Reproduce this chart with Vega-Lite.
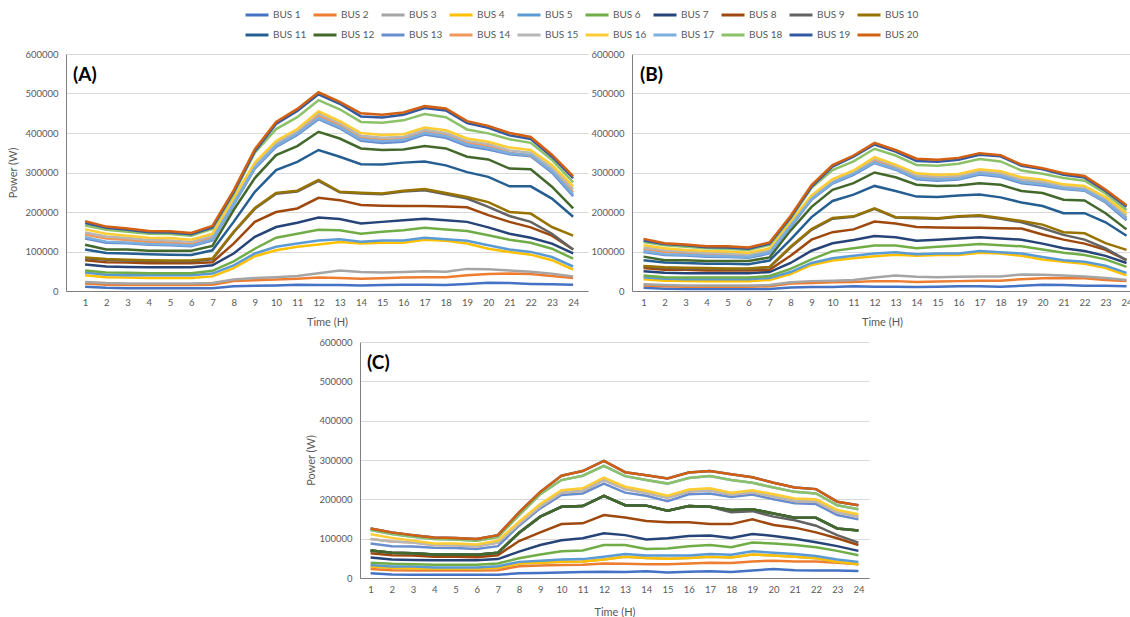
{
"$schema": "https://vega.github.io/schema/vega-lite/v6.json",
"padding": {"left": 7, "top": 2, "right": 0, "bottom": 0},
"background": "white",
"config": {
  "view": {"stroke": null},
  "font": "Lato",
  "axis": {"labelFont": "Lato", "titleFont": "Lato", "labelColor": "#595959", "titleColor": "#595959", "labelFontSize": 9.5, "titleFontSize": 11, "titleFontWeight": "normal", "ticks": false, "domainColor": "#7f7f7f", "gridColor": "#d9d9d9"}
},
"datasets": {
"A": [
{"b":1,"h":1,"w":11000},{"b":1,"h":2,"w":8000},{"b":1,"h":3,"w":7000},{"b":1,"h":4,"w":7000},{"b":1,"h":5,"w":7000},{"b":1,"h":6,"w":7000},{"b":1,"h":7,"w":7000},{"b":1,"h":8,"w":12000},{"b":1,"h":9,"w":13000},{"b":1,"h":10,"w":14000},{"b":1,"h":11,"w":16000},{"b":1,"h":12,"w":15000},{"b":1,"h":13,"w":15000},{"b":1,"h":14,"w":14000},{"b":1,"h":15,"w":15000},{"b":1,"h":16,"w":16000},{"b":1,"h":17,"w":16000},{"b":1,"h":18,"w":15000},{"b":1,"h":19,"w":18000},{"b":1,"h":20,"w":21000},{"b":1,"h":21,"w":20000},{"b":1,"h":22,"w":18000},{"b":1,"h":23,"w":17000},{"b":1,"h":24,"w":16000},
{"b":2,"h":1,"w":19000},{"b":2,"h":2,"w":16000},{"b":2,"h":3,"w":15000},{"b":2,"h":4,"w":15000},{"b":2,"h":5,"w":15000},{"b":2,"h":6,"w":15000},{"b":2,"h":7,"w":16000},{"b":2,"h":8,"w":25000},{"b":2,"h":9,"w":27000},{"b":2,"h":10,"w":29000},{"b":2,"h":11,"w":31000},{"b":2,"h":12,"w":34000},{"b":2,"h":13,"w":33000},{"b":2,"h":14,"w":31000},{"b":2,"h":15,"w":32000},{"b":2,"h":16,"w":34000},{"b":2,"h":17,"w":35000},{"b":2,"h":18,"w":35000},{"b":2,"h":19,"w":40000},{"b":2,"h":20,"w":43000},{"b":2,"h":21,"w":44000},{"b":2,"h":22,"w":43000},{"b":2,"h":23,"w":38000},{"b":2,"h":24,"w":33000},
{"b":3,"h":1,"w":23000},{"b":3,"h":2,"w":20000},{"b":3,"h":3,"w":19000},{"b":3,"h":4,"w":19000},{"b":3,"h":5,"w":19000},{"b":3,"h":6,"w":19000},{"b":3,"h":7,"w":20000},{"b":3,"h":8,"w":29000},{"b":3,"h":9,"w":33000},{"b":3,"h":10,"w":35000},{"b":3,"h":11,"w":38000},{"b":3,"h":12,"w":45000},{"b":3,"h":13,"w":52000},{"b":3,"h":14,"w":48000},{"b":3,"h":15,"w":47000},{"b":3,"h":16,"w":48000},{"b":3,"h":17,"w":50000},{"b":3,"h":18,"w":49000},{"b":3,"h":19,"w":56000},{"b":3,"h":20,"w":55000},{"b":3,"h":21,"w":52000},{"b":3,"h":22,"w":49000},{"b":3,"h":23,"w":44000},{"b":3,"h":24,"w":37000},
{"b":4,"h":1,"w":40000},{"b":4,"h":2,"w":35000},{"b":4,"h":3,"w":34000},{"b":4,"h":4,"w":33000},{"b":4,"h":5,"w":33000},{"b":4,"h":6,"w":33000},{"b":4,"h":7,"w":37000},{"b":4,"h":8,"w":58000},{"b":4,"h":9,"w":88000},{"b":4,"h":10,"w":103000},{"b":4,"h":11,"w":112000},{"b":4,"h":12,"w":118000},{"b":4,"h":13,"w":124000},{"b":4,"h":14,"w":120000},{"b":4,"h":15,"w":122000},{"b":4,"h":16,"w":122000},{"b":4,"h":17,"w":130000},{"b":4,"h":18,"w":127000},{"b":4,"h":19,"w":120000},{"b":4,"h":20,"w":107000},{"b":4,"h":21,"w":99000},{"b":4,"h":22,"w":92000},{"b":4,"h":23,"w":78000},{"b":4,"h":24,"w":54000},
{"b":5,"h":1,"w":47000},{"b":5,"h":2,"w":41000},{"b":5,"h":3,"w":40000},{"b":5,"h":4,"w":40000},{"b":5,"h":5,"w":40000},{"b":5,"h":6,"w":40000},{"b":5,"h":7,"w":44000},{"b":5,"h":8,"w":65000},{"b":5,"h":9,"w":95000},{"b":5,"h":10,"w":112000},{"b":5,"h":11,"w":120000},{"b":5,"h":12,"w":128000},{"b":5,"h":13,"w":131000},{"b":5,"h":14,"w":125000},{"b":5,"h":15,"w":128000},{"b":5,"h":16,"w":128000},{"b":5,"h":17,"w":135000},{"b":5,"h":18,"w":131000},{"b":5,"h":19,"w":127000},{"b":5,"h":20,"w":116000},{"b":5,"h":21,"w":105000},{"b":5,"h":22,"w":99000},{"b":5,"h":23,"w":86000},{"b":5,"h":24,"w":62000},
{"b":6,"h":1,"w":52000},{"b":6,"h":2,"w":47000},{"b":6,"h":3,"w":46000},{"b":6,"h":4,"w":45000},{"b":6,"h":5,"w":45000},{"b":6,"h":6,"w":45000},{"b":6,"h":7,"w":51000},{"b":6,"h":8,"w":75000},{"b":6,"h":9,"w":107000},{"b":6,"h":10,"w":135000},{"b":6,"h":11,"w":145000},{"b":6,"h":12,"w":155000},{"b":6,"h":13,"w":154000},{"b":6,"h":14,"w":145000},{"b":6,"h":15,"w":150000},{"b":6,"h":16,"w":154000},{"b":6,"h":17,"w":160000},{"b":6,"h":18,"w":156000},{"b":6,"h":19,"w":152000},{"b":6,"h":20,"w":141000},{"b":6,"h":21,"w":130000},{"b":6,"h":22,"w":122000},{"b":6,"h":23,"w":107000},{"b":6,"h":24,"w":82000},
{"b":7,"h":1,"w":67000},{"b":7,"h":2,"w":62000},{"b":7,"h":3,"w":61000},{"b":7,"h":4,"w":60000},{"b":7,"h":5,"w":60000},{"b":7,"h":6,"w":60000},{"b":7,"h":7,"w":65000},{"b":7,"h":8,"w":95000},{"b":7,"h":9,"w":137000},{"b":7,"h":10,"w":162000},{"b":7,"h":11,"w":173000},{"b":7,"h":12,"w":186000},{"b":7,"h":13,"w":182000},{"b":7,"h":14,"w":171000},{"b":7,"h":15,"w":175000},{"b":7,"h":16,"w":179000},{"b":7,"h":17,"w":183000},{"b":7,"h":18,"w":179000},{"b":7,"h":19,"w":175000},{"b":7,"h":20,"w":161000},{"b":7,"h":21,"w":145000},{"b":7,"h":22,"w":135000},{"b":7,"h":23,"w":120000},{"b":7,"h":24,"w":95000},
{"b":8,"h":1,"w":78000},{"b":8,"h":2,"w":73000},{"b":8,"h":3,"w":72000},{"b":8,"h":4,"w":70000},{"b":8,"h":5,"w":70000},{"b":8,"h":6,"w":70000},{"b":8,"h":7,"w":73000},{"b":8,"h":8,"w":120000},{"b":8,"h":9,"w":175000},{"b":8,"h":10,"w":200000},{"b":8,"h":11,"w":209000},{"b":8,"h":12,"w":236000},{"b":8,"h":13,"w":230000},{"b":8,"h":14,"w":218000},{"b":8,"h":15,"w":216000},{"b":8,"h":16,"w":215000},{"b":8,"h":17,"w":215000},{"b":8,"h":18,"w":214000},{"b":8,"h":19,"w":212000},{"b":8,"h":20,"w":192000},{"b":8,"h":21,"w":175000},{"b":8,"h":22,"w":161000},{"b":8,"h":23,"w":140000},{"b":8,"h":24,"w":105000},
{"b":9,"h":1,"w":83000},{"b":9,"h":2,"w":79000},{"b":9,"h":3,"w":77000},{"b":9,"h":4,"w":76000},{"b":9,"h":5,"w":75000},{"b":9,"h":6,"w":75000},{"b":9,"h":7,"w":80000},{"b":9,"h":8,"w":148000},{"b":9,"h":9,"w":208000},{"b":9,"h":10,"w":246000},{"b":9,"h":11,"w":252000},{"b":9,"h":12,"w":279000},{"b":9,"h":13,"w":250000},{"b":9,"h":14,"w":247000},{"b":9,"h":15,"w":245000},{"b":9,"h":16,"w":252000},{"b":9,"h":17,"w":255000},{"b":9,"h":18,"w":245000},{"b":9,"h":19,"w":234000},{"b":9,"h":20,"w":213000},{"b":9,"h":21,"w":190000},{"b":9,"h":22,"w":175000},{"b":9,"h":23,"w":145000},{"b":9,"h":24,"w":105000},
{"b":10,"h":1,"w":85000},{"b":10,"h":2,"w":81000},{"b":10,"h":3,"w":79000},{"b":10,"h":4,"w":78000},{"b":10,"h":5,"w":77000},{"b":10,"h":6,"w":77000},{"b":10,"h":7,"w":82000},{"b":10,"h":8,"w":150000},{"b":10,"h":9,"w":210000},{"b":10,"h":10,"w":248000},{"b":10,"h":11,"w":254000},{"b":10,"h":12,"w":281000},{"b":10,"h":13,"w":251000},{"b":10,"h":14,"w":249000},{"b":10,"h":15,"w":247000},{"b":10,"h":16,"w":254000},{"b":10,"h":17,"w":258000},{"b":10,"h":18,"w":248000},{"b":10,"h":19,"w":238000},{"b":10,"h":20,"w":225000},{"b":10,"h":21,"w":200000},{"b":10,"h":22,"w":196000},{"b":10,"h":23,"w":162000},{"b":10,"h":24,"w":140000},
{"b":11,"h":1,"w":105000},{"b":11,"h":2,"w":96000},{"b":11,"h":3,"w":95000},{"b":11,"h":4,"w":93000},{"b":11,"h":5,"w":92000},{"b":11,"h":6,"w":91000},{"b":11,"h":7,"w":103000},{"b":11,"h":8,"w":175000},{"b":11,"h":9,"w":251000},{"b":11,"h":10,"w":306000},{"b":11,"h":11,"w":327000},{"b":11,"h":12,"w":357000},{"b":11,"h":13,"w":340000},{"b":11,"h":14,"w":321000},{"b":11,"h":15,"w":320000},{"b":11,"h":16,"w":325000},{"b":11,"h":17,"w":328000},{"b":11,"h":18,"w":318000},{"b":11,"h":19,"w":301000},{"b":11,"h":20,"w":289000},{"b":11,"h":21,"w":265000},{"b":11,"h":22,"w":265000},{"b":11,"h":23,"w":234000},{"b":11,"h":24,"w":188000},
{"b":12,"h":1,"w":117000},{"b":12,"h":2,"w":105000},{"b":12,"h":3,"w":105000},{"b":12,"h":4,"w":102000},{"b":12,"h":5,"w":102000},{"b":12,"h":6,"w":102000},{"b":12,"h":7,"w":114000},{"b":12,"h":8,"w":205000},{"b":12,"h":9,"w":286000},{"b":12,"h":10,"w":344000},{"b":12,"h":11,"w":367000},{"b":12,"h":12,"w":403000},{"b":12,"h":13,"w":386000},{"b":12,"h":14,"w":361000},{"b":12,"h":15,"w":357000},{"b":12,"h":16,"w":358000},{"b":12,"h":17,"w":367000},{"b":12,"h":18,"w":361000},{"b":12,"h":19,"w":340000},{"b":12,"h":20,"w":333000},{"b":12,"h":21,"w":310000},{"b":12,"h":22,"w":308000},{"b":12,"h":23,"w":264000},{"b":12,"h":24,"w":209000},
{"b":13,"h":1,"w":133000},{"b":13,"h":2,"w":122000},{"b":13,"h":3,"w":121000},{"b":13,"h":4,"w":117000},{"b":13,"h":5,"w":116000},{"b":13,"h":6,"w":113000},{"b":13,"h":7,"w":128000},{"b":13,"h":8,"w":218000},{"b":13,"h":9,"w":310000},{"b":13,"h":10,"w":365000},{"b":13,"h":11,"w":395000},{"b":13,"h":12,"w":435000},{"b":13,"h":13,"w":412000},{"b":13,"h":14,"w":380000},{"b":13,"h":15,"w":375000},{"b":13,"h":16,"w":378000},{"b":13,"h":17,"w":396000},{"b":13,"h":18,"w":388000},{"b":13,"h":19,"w":367000},{"b":13,"h":20,"w":358000},{"b":13,"h":21,"w":346000},{"b":13,"h":22,"w":341000},{"b":13,"h":23,"w":300000},{"b":13,"h":24,"w":240000},
{"b":14,"h":1,"w":143000},{"b":14,"h":2,"w":133000},{"b":14,"h":3,"w":129000},{"b":14,"h":4,"w":124000},{"b":14,"h":5,"w":123000},{"b":14,"h":6,"w":119000},{"b":14,"h":7,"w":135000},{"b":14,"h":8,"w":225000},{"b":14,"h":9,"w":315000},{"b":14,"h":10,"w":372000},{"b":14,"h":11,"w":402000},{"b":14,"h":12,"w":444000},{"b":14,"h":13,"w":420000},{"b":14,"h":14,"w":388000},{"b":14,"h":15,"w":383000},{"b":14,"h":16,"w":385000},{"b":14,"h":17,"w":403000},{"b":14,"h":18,"w":395000},{"b":14,"h":19,"w":375000},{"b":14,"h":20,"w":367000},{"b":14,"h":21,"w":350000},{"b":14,"h":22,"w":343000},{"b":14,"h":23,"w":305000},{"b":14,"h":24,"w":250000},
{"b":15,"h":1,"w":148000},{"b":15,"h":2,"w":138000},{"b":15,"h":3,"w":134000},{"b":15,"h":4,"w":129000},{"b":15,"h":5,"w":128000},{"b":15,"h":6,"w":124000},{"b":15,"h":7,"w":140000},{"b":15,"h":8,"w":230000},{"b":15,"h":9,"w":320000},{"b":15,"h":10,"w":375000},{"b":15,"h":11,"w":405000},{"b":15,"h":12,"w":450000},{"b":15,"h":13,"w":425000},{"b":15,"h":14,"w":393000},{"b":15,"h":15,"w":388000},{"b":15,"h":16,"w":390000},{"b":15,"h":17,"w":408000},{"b":15,"h":18,"w":400000},{"b":15,"h":19,"w":380000},{"b":15,"h":20,"w":372000},{"b":15,"h":21,"w":356000},{"b":15,"h":22,"w":350000},{"b":15,"h":23,"w":312000},{"b":15,"h":24,"w":258000},
{"b":16,"h":1,"w":156000},{"b":16,"h":2,"w":145000},{"b":16,"h":3,"w":140000},{"b":16,"h":4,"w":135000},{"b":16,"h":5,"w":134000},{"b":16,"h":6,"w":130000},{"b":16,"h":7,"w":145000},{"b":16,"h":8,"w":235000},{"b":16,"h":9,"w":325000},{"b":16,"h":10,"w":380000},{"b":16,"h":11,"w":410000},{"b":16,"h":12,"w":455000},{"b":16,"h":13,"w":430000},{"b":16,"h":14,"w":400000},{"b":16,"h":15,"w":395000},{"b":16,"h":16,"w":397000},{"b":16,"h":17,"w":414000},{"b":16,"h":18,"w":407000},{"b":16,"h":19,"w":386000},{"b":16,"h":20,"w":378000},{"b":16,"h":21,"w":363000},{"b":16,"h":22,"w":357000},{"b":16,"h":23,"w":319000},{"b":16,"h":24,"w":265000},
{"b":17,"h":1,"w":136000},{"b":17,"h":2,"w":125000},{"b":17,"h":3,"w":123000},{"b":17,"h":4,"w":119000},{"b":17,"h":5,"w":118000},{"b":17,"h":6,"w":115000},{"b":17,"h":7,"w":131000},{"b":17,"h":8,"w":221000},{"b":17,"h":9,"w":313000},{"b":17,"h":10,"w":368000},{"b":17,"h":11,"w":398000},{"b":17,"h":12,"w":438000},{"b":17,"h":13,"w":415000},{"b":17,"h":14,"w":384000},{"b":17,"h":15,"w":379000},{"b":17,"h":16,"w":382000},{"b":17,"h":17,"w":400000},{"b":17,"h":18,"w":392000},{"b":17,"h":19,"w":371000},{"b":17,"h":20,"w":362000},{"b":17,"h":21,"w":349000},{"b":17,"h":22,"w":344000},{"b":17,"h":23,"w":304000},{"b":17,"h":24,"w":245000},
{"b":18,"h":1,"w":166000},{"b":18,"h":2,"w":155000},{"b":18,"h":3,"w":150000},{"b":18,"h":4,"w":145000},{"b":18,"h":5,"w":144000},{"b":18,"h":6,"w":140000},{"b":18,"h":7,"w":157000},{"b":18,"h":8,"w":245000},{"b":18,"h":9,"w":350000},{"b":18,"h":10,"w":410000},{"b":18,"h":11,"w":440000},{"b":18,"h":12,"w":483000},{"b":18,"h":13,"w":460000},{"b":18,"h":14,"w":428000},{"b":18,"h":15,"w":426000},{"b":18,"h":16,"w":432000},{"b":18,"h":17,"w":448000},{"b":18,"h":18,"w":440000},{"b":18,"h":19,"w":409000},{"b":18,"h":20,"w":399000},{"b":18,"h":21,"w":384000},{"b":18,"h":22,"w":375000},{"b":18,"h":23,"w":332000},{"b":18,"h":24,"w":275000},
{"b":19,"h":1,"w":172000},{"b":19,"h":2,"w":160000},{"b":19,"h":3,"w":155000},{"b":19,"h":4,"w":149000},{"b":19,"h":5,"w":148000},{"b":19,"h":6,"w":144000},{"b":19,"h":7,"w":161000},{"b":19,"h":8,"w":250000},{"b":19,"h":9,"w":354000},{"b":19,"h":10,"w":423000},{"b":19,"h":11,"w":456000},{"b":19,"h":12,"w":498000},{"b":19,"h":13,"w":474000},{"b":19,"h":14,"w":442000},{"b":19,"h":15,"w":439000},{"b":19,"h":16,"w":446000},{"b":19,"h":17,"w":463000},{"b":19,"h":18,"w":457000},{"b":19,"h":19,"w":425000},{"b":19,"h":20,"w":413000},{"b":19,"h":21,"w":394000},{"b":19,"h":22,"w":385000},{"b":19,"h":23,"w":340000},{"b":19,"h":24,"w":286000},
{"b":20,"h":1,"w":177000},{"b":20,"h":2,"w":163000},{"b":20,"h":3,"w":158000},{"b":20,"h":4,"w":152000},{"b":20,"h":5,"w":151000},{"b":20,"h":6,"w":147000},{"b":20,"h":7,"w":165000},{"b":20,"h":8,"w":255000},{"b":20,"h":9,"w":359000},{"b":20,"h":10,"w":428000},{"b":20,"h":11,"w":461000},{"b":20,"h":12,"w":503000},{"b":20,"h":13,"w":479000},{"b":20,"h":14,"w":450000},{"b":20,"h":15,"w":446000},{"b":20,"h":16,"w":452000},{"b":20,"h":17,"w":468000},{"b":20,"h":18,"w":462000},{"b":20,"h":19,"w":430000},{"b":20,"h":20,"w":418000},{"b":20,"h":21,"w":400000},{"b":20,"h":22,"w":390000},{"b":20,"h":23,"w":345000},{"b":20,"h":24,"w":291000}
],
"B": [
{"b":1,"h":1,"w":8000},{"b":1,"h":2,"w":6000},{"b":1,"h":3,"w":5000},{"b":1,"h":4,"w":5000},{"b":1,"h":5,"w":5000},{"b":1,"h":6,"w":5000},{"b":1,"h":7,"w":5000},{"b":1,"h":8,"w":9000},{"b":1,"h":9,"w":10000},{"b":1,"h":10,"w":10000},{"b":1,"h":11,"w":12000},{"b":1,"h":12,"w":11000},{"b":1,"h":13,"w":11000},{"b":1,"h":14,"w":10000},{"b":1,"h":15,"w":11000},{"b":1,"h":16,"w":12000},{"b":1,"h":17,"w":12000},{"b":1,"h":18,"w":11000},{"b":1,"h":19,"w":13000},{"b":1,"h":20,"w":16000},{"b":1,"h":21,"w":15000},{"b":1,"h":22,"w":13000},{"b":1,"h":23,"w":13000},{"b":1,"h":24,"w":12000},
{"b":2,"h":1,"w":14000},{"b":2,"h":2,"w":12000},{"b":2,"h":3,"w":11000},{"b":2,"h":4,"w":11000},{"b":2,"h":5,"w":11000},{"b":2,"h":6,"w":11000},{"b":2,"h":7,"w":12000},{"b":2,"h":8,"w":19000},{"b":2,"h":9,"w":20000},{"b":2,"h":10,"w":22000},{"b":2,"h":11,"w":23000},{"b":2,"h":12,"w":25000},{"b":2,"h":13,"w":25000},{"b":2,"h":14,"w":23000},{"b":2,"h":15,"w":24000},{"b":2,"h":16,"w":25000},{"b":2,"h":17,"w":26000},{"b":2,"h":18,"w":26000},{"b":2,"h":19,"w":30000},{"b":2,"h":20,"w":32000},{"b":2,"h":21,"w":33000},{"b":2,"h":22,"w":32000},{"b":2,"h":23,"w":28000},{"b":2,"h":24,"w":25000},
{"b":3,"h":1,"w":17000},{"b":3,"h":2,"w":15000},{"b":3,"h":3,"w":14000},{"b":3,"h":4,"w":14000},{"b":3,"h":5,"w":14000},{"b":3,"h":6,"w":14000},{"b":3,"h":7,"w":15000},{"b":3,"h":8,"w":22000},{"b":3,"h":9,"w":25000},{"b":3,"h":10,"w":26000},{"b":3,"h":11,"w":28000},{"b":3,"h":12,"w":34000},{"b":3,"h":13,"w":39000},{"b":3,"h":14,"w":36000},{"b":3,"h":15,"w":35000},{"b":3,"h":16,"w":36000},{"b":3,"h":17,"w":37000},{"b":3,"h":18,"w":37000},{"b":3,"h":19,"w":42000},{"b":3,"h":20,"w":41000},{"b":3,"h":21,"w":39000},{"b":3,"h":22,"w":37000},{"b":3,"h":23,"w":33000},{"b":3,"h":24,"w":28000},
{"b":4,"h":1,"w":30000},{"b":4,"h":2,"w":26000},{"b":4,"h":3,"w":25000},{"b":4,"h":4,"w":25000},{"b":4,"h":5,"w":25000},{"b":4,"h":6,"w":25000},{"b":4,"h":7,"w":28000},{"b":4,"h":8,"w":43000},{"b":4,"h":9,"w":66000},{"b":4,"h":10,"w":77000},{"b":4,"h":11,"w":83000},{"b":4,"h":12,"w":88000},{"b":4,"h":13,"w":92000},{"b":4,"h":14,"w":89000},{"b":4,"h":15,"w":91000},{"b":4,"h":16,"w":91000},{"b":4,"h":17,"w":97000},{"b":4,"h":18,"w":95000},{"b":4,"h":19,"w":89000},{"b":4,"h":20,"w":80000},{"b":4,"h":21,"w":74000},{"b":4,"h":22,"w":69000},{"b":4,"h":23,"w":58000},{"b":4,"h":24,"w":40000},
{"b":5,"h":1,"w":35000},{"b":5,"h":2,"w":31000},{"b":5,"h":3,"w":30000},{"b":5,"h":4,"w":30000},{"b":5,"h":5,"w":30000},{"b":5,"h":6,"w":30000},{"b":5,"h":7,"w":33000},{"b":5,"h":8,"w":48000},{"b":5,"h":9,"w":71000},{"b":5,"h":10,"w":83000},{"b":5,"h":11,"w":89000},{"b":5,"h":12,"w":95000},{"b":5,"h":13,"w":98000},{"b":5,"h":14,"w":93000},{"b":5,"h":15,"w":95000},{"b":5,"h":16,"w":95000},{"b":5,"h":17,"w":101000},{"b":5,"h":18,"w":98000},{"b":5,"h":19,"w":95000},{"b":5,"h":20,"w":86000},{"b":5,"h":21,"w":78000},{"b":5,"h":22,"w":74000},{"b":5,"h":23,"w":64000},{"b":5,"h":24,"w":46000},
{"b":6,"h":1,"w":39000},{"b":6,"h":2,"w":35000},{"b":6,"h":3,"w":34000},{"b":6,"h":4,"w":34000},{"b":6,"h":5,"w":34000},{"b":6,"h":6,"w":34000},{"b":6,"h":7,"w":38000},{"b":6,"h":8,"w":56000},{"b":6,"h":9,"w":80000},{"b":6,"h":10,"w":101000},{"b":6,"h":11,"w":108000},{"b":6,"h":12,"w":115000},{"b":6,"h":13,"w":115000},{"b":6,"h":14,"w":108000},{"b":6,"h":15,"w":112000},{"b":6,"h":16,"w":115000},{"b":6,"h":17,"w":119000},{"b":6,"h":18,"w":116000},{"b":6,"h":19,"w":113000},{"b":6,"h":20,"w":105000},{"b":6,"h":21,"w":97000},{"b":6,"h":22,"w":91000},{"b":6,"h":23,"w":80000},{"b":6,"h":24,"w":61000},
{"b":7,"h":1,"w":50000},{"b":7,"h":2,"w":46000},{"b":7,"h":3,"w":45000},{"b":7,"h":4,"w":45000},{"b":7,"h":5,"w":45000},{"b":7,"h":6,"w":45000},{"b":7,"h":7,"w":48000},{"b":7,"h":8,"w":71000},{"b":7,"h":9,"w":102000},{"b":7,"h":10,"w":121000},{"b":7,"h":11,"w":129000},{"b":7,"h":12,"w":139000},{"b":7,"h":13,"w":136000},{"b":7,"h":14,"w":127000},{"b":7,"h":15,"w":130000},{"b":7,"h":16,"w":133000},{"b":7,"h":17,"w":136000},{"b":7,"h":18,"w":133000},{"b":7,"h":19,"w":130000},{"b":7,"h":20,"w":120000},{"b":7,"h":21,"w":108000},{"b":7,"h":22,"w":101000},{"b":7,"h":23,"w":89000},{"b":7,"h":24,"w":71000},
{"b":8,"h":1,"w":58000},{"b":8,"h":2,"w":54000},{"b":8,"h":3,"w":54000},{"b":8,"h":4,"w":52000},{"b":8,"h":5,"w":52000},{"b":8,"h":6,"w":52000},{"b":8,"h":7,"w":54000},{"b":8,"h":8,"w":89000},{"b":8,"h":9,"w":130000},{"b":8,"h":10,"w":149000},{"b":8,"h":11,"w":156000},{"b":8,"h":12,"w":176000},{"b":8,"h":13,"w":171000},{"b":8,"h":14,"w":162000},{"b":8,"h":15,"w":161000},{"b":8,"h":16,"w":160000},{"b":8,"h":17,"w":160000},{"b":8,"h":18,"w":159000},{"b":8,"h":19,"w":158000},{"b":8,"h":20,"w":143000},{"b":8,"h":21,"w":130000},{"b":8,"h":22,"w":120000},{"b":8,"h":23,"w":104000},{"b":8,"h":24,"w":78000},
{"b":9,"h":1,"w":62000},{"b":9,"h":2,"w":59000},{"b":9,"h":3,"w":57000},{"b":9,"h":4,"w":57000},{"b":9,"h":5,"w":56000},{"b":9,"h":6,"w":56000},{"b":9,"h":7,"w":60000},{"b":9,"h":8,"w":110000},{"b":9,"h":9,"w":155000},{"b":9,"h":10,"w":183000},{"b":9,"h":11,"w":188000},{"b":9,"h":12,"w":208000},{"b":9,"h":13,"w":186000},{"b":9,"h":14,"w":184000},{"b":9,"h":15,"w":183000},{"b":9,"h":16,"w":188000},{"b":9,"h":17,"w":190000},{"b":9,"h":18,"w":183000},{"b":9,"h":19,"w":174000},{"b":9,"h":20,"w":159000},{"b":9,"h":21,"w":142000},{"b":9,"h":22,"w":130000},{"b":9,"h":23,"w":108000},{"b":9,"h":24,"w":78000},
{"b":10,"h":1,"w":63000},{"b":10,"h":2,"w":60000},{"b":10,"h":3,"w":59000},{"b":10,"h":4,"w":58000},{"b":10,"h":5,"w":57000},{"b":10,"h":6,"w":57000},{"b":10,"h":7,"w":61000},{"b":10,"h":8,"w":112000},{"b":10,"h":9,"w":157000},{"b":10,"h":10,"w":185000},{"b":10,"h":11,"w":189000},{"b":10,"h":12,"w":209000},{"b":10,"h":13,"w":187000},{"b":10,"h":14,"w":186000},{"b":10,"h":15,"w":184000},{"b":10,"h":16,"w":189000},{"b":10,"h":17,"w":192000},{"b":10,"h":18,"w":185000},{"b":10,"h":19,"w":177000},{"b":10,"h":20,"w":168000},{"b":10,"h":21,"w":149000},{"b":10,"h":22,"w":146000},{"b":10,"h":23,"w":121000},{"b":10,"h":24,"w":104000},
{"b":11,"h":1,"w":78000},{"b":11,"h":2,"w":72000},{"b":11,"h":3,"w":71000},{"b":11,"h":4,"w":69000},{"b":11,"h":5,"w":69000},{"b":11,"h":6,"w":68000},{"b":11,"h":7,"w":77000},{"b":11,"h":8,"w":130000},{"b":11,"h":9,"w":187000},{"b":11,"h":10,"w":228000},{"b":11,"h":11,"w":244000},{"b":11,"h":12,"w":266000},{"b":11,"h":13,"w":253000},{"b":11,"h":14,"w":239000},{"b":11,"h":15,"w":238000},{"b":11,"h":16,"w":242000},{"b":11,"h":17,"w":244000},{"b":11,"h":18,"w":237000},{"b":11,"h":19,"w":224000},{"b":11,"h":20,"w":215000},{"b":11,"h":21,"w":197000},{"b":11,"h":22,"w":197000},{"b":11,"h":23,"w":174000},{"b":11,"h":24,"w":140000},
{"b":12,"h":1,"w":87000},{"b":12,"h":2,"w":78000},{"b":12,"h":3,"w":78000},{"b":12,"h":4,"w":76000},{"b":12,"h":5,"w":76000},{"b":12,"h":6,"w":76000},{"b":12,"h":7,"w":85000},{"b":12,"h":8,"w":153000},{"b":12,"h":9,"w":213000},{"b":12,"h":10,"w":256000},{"b":12,"h":11,"w":273000},{"b":12,"h":12,"w":300000},{"b":12,"h":13,"w":288000},{"b":12,"h":14,"w":269000},{"b":12,"h":15,"w":266000},{"b":12,"h":16,"w":267000},{"b":12,"h":17,"w":273000},{"b":12,"h":18,"w":269000},{"b":12,"h":19,"w":253000},{"b":12,"h":20,"w":248000},{"b":12,"h":21,"w":231000},{"b":12,"h":22,"w":229000},{"b":12,"h":23,"w":197000},{"b":12,"h":24,"w":156000},
{"b":13,"h":1,"w":99000},{"b":13,"h":2,"w":91000},{"b":13,"h":3,"w":90000},{"b":13,"h":4,"w":87000},{"b":13,"h":5,"w":86000},{"b":13,"h":6,"w":84000},{"b":13,"h":7,"w":95000},{"b":13,"h":8,"w":162000},{"b":13,"h":9,"w":231000},{"b":13,"h":10,"w":272000},{"b":13,"h":11,"w":294000},{"b":13,"h":12,"w":324000},{"b":13,"h":13,"w":307000},{"b":13,"h":14,"w":283000},{"b":13,"h":15,"w":279000},{"b":13,"h":16,"w":282000},{"b":13,"h":17,"w":295000},{"b":13,"h":18,"w":289000},{"b":13,"h":19,"w":273000},{"b":13,"h":20,"w":267000},{"b":13,"h":21,"w":258000},{"b":13,"h":22,"w":254000},{"b":13,"h":23,"w":224000},{"b":13,"h":24,"w":179000},
{"b":14,"h":1,"w":107000},{"b":14,"h":2,"w":99000},{"b":14,"h":3,"w":96000},{"b":14,"h":4,"w":92000},{"b":14,"h":5,"w":92000},{"b":14,"h":6,"w":89000},{"b":14,"h":7,"w":101000},{"b":14,"h":8,"w":168000},{"b":14,"h":9,"w":235000},{"b":14,"h":10,"w":277000},{"b":14,"h":11,"w":300000},{"b":14,"h":12,"w":331000},{"b":14,"h":13,"w":313000},{"b":14,"h":14,"w":289000},{"b":14,"h":15,"w":285000},{"b":14,"h":16,"w":287000},{"b":14,"h":17,"w":300000},{"b":14,"h":18,"w":294000},{"b":14,"h":19,"w":279000},{"b":14,"h":20,"w":273000},{"b":14,"h":21,"w":261000},{"b":14,"h":22,"w":256000},{"b":14,"h":23,"w":227000},{"b":14,"h":24,"w":186000},
{"b":15,"h":1,"w":110000},{"b":15,"h":2,"w":103000},{"b":15,"h":3,"w":100000},{"b":15,"h":4,"w":96000},{"b":15,"h":5,"w":95000},{"b":15,"h":6,"w":92000},{"b":15,"h":7,"w":104000},{"b":15,"h":8,"w":171000},{"b":15,"h":9,"w":238000},{"b":15,"h":10,"w":279000},{"b":15,"h":11,"w":302000},{"b":15,"h":12,"w":335000},{"b":15,"h":13,"w":317000},{"b":15,"h":14,"w":293000},{"b":15,"h":15,"w":289000},{"b":15,"h":16,"w":291000},{"b":15,"h":17,"w":304000},{"b":15,"h":18,"w":298000},{"b":15,"h":19,"w":283000},{"b":15,"h":20,"w":277000},{"b":15,"h":21,"w":265000},{"b":15,"h":22,"w":261000},{"b":15,"h":23,"w":232000},{"b":15,"h":24,"w":192000},
{"b":16,"h":1,"w":116000},{"b":16,"h":2,"w":108000},{"b":16,"h":3,"w":104000},{"b":16,"h":4,"w":101000},{"b":16,"h":5,"w":100000},{"b":16,"h":6,"w":97000},{"b":16,"h":7,"w":108000},{"b":16,"h":8,"w":175000},{"b":16,"h":9,"w":242000},{"b":16,"h":10,"w":283000},{"b":16,"h":11,"w":305000},{"b":16,"h":12,"w":339000},{"b":16,"h":13,"w":320000},{"b":16,"h":14,"w":298000},{"b":16,"h":15,"w":294000},{"b":16,"h":16,"w":296000},{"b":16,"h":17,"w":308000},{"b":16,"h":18,"w":303000},{"b":16,"h":19,"w":288000},{"b":16,"h":20,"w":282000},{"b":16,"h":21,"w":270000},{"b":16,"h":22,"w":266000},{"b":16,"h":23,"w":238000},{"b":16,"h":24,"w":197000},
{"b":17,"h":1,"w":101000},{"b":17,"h":2,"w":93000},{"b":17,"h":3,"w":92000},{"b":17,"h":4,"w":89000},{"b":17,"h":5,"w":88000},{"b":17,"h":6,"w":86000},{"b":17,"h":7,"w":98000},{"b":17,"h":8,"w":165000},{"b":17,"h":9,"w":233000},{"b":17,"h":10,"w":274000},{"b":17,"h":11,"w":297000},{"b":17,"h":12,"w":326000},{"b":17,"h":13,"w":309000},{"b":17,"h":14,"w":286000},{"b":17,"h":15,"w":282000},{"b":17,"h":16,"w":285000},{"b":17,"h":17,"w":298000},{"b":17,"h":18,"w":292000},{"b":17,"h":19,"w":276000},{"b":17,"h":20,"w":270000},{"b":17,"h":21,"w":260000},{"b":17,"h":22,"w":256000},{"b":17,"h":23,"w":227000},{"b":17,"h":24,"w":183000},
{"b":18,"h":1,"w":124000},{"b":18,"h":2,"w":116000},{"b":18,"h":3,"w":112000},{"b":18,"h":4,"w":108000},{"b":18,"h":5,"w":107000},{"b":18,"h":6,"w":104000},{"b":18,"h":7,"w":117000},{"b":18,"h":8,"w":183000},{"b":18,"h":9,"w":261000},{"b":18,"h":10,"w":306000},{"b":18,"h":11,"w":328000},{"b":18,"h":12,"w":360000},{"b":18,"h":13,"w":343000},{"b":18,"h":14,"w":319000},{"b":18,"h":15,"w":317000},{"b":18,"h":16,"w":322000},{"b":18,"h":17,"w":334000},{"b":18,"h":18,"w":328000},{"b":18,"h":19,"w":305000},{"b":18,"h":20,"w":297000},{"b":18,"h":21,"w":286000},{"b":18,"h":22,"w":279000},{"b":18,"h":23,"w":247000},{"b":18,"h":24,"w":205000},
{"b":19,"h":1,"w":128000},{"b":19,"h":2,"w":119000},{"b":19,"h":3,"w":116000},{"b":19,"h":4,"w":111000},{"b":19,"h":5,"w":110000},{"b":19,"h":6,"w":107000},{"b":19,"h":7,"w":120000},{"b":19,"h":8,"w":186000},{"b":19,"h":9,"w":264000},{"b":19,"h":10,"w":315000},{"b":19,"h":11,"w":340000},{"b":19,"h":12,"w":371000},{"b":19,"h":13,"w":353000},{"b":19,"h":14,"w":329000},{"b":19,"h":15,"w":327000},{"b":19,"h":16,"w":332000},{"b":19,"h":17,"w":345000},{"b":19,"h":18,"w":341000},{"b":19,"h":19,"w":317000},{"b":19,"h":20,"w":308000},{"b":19,"h":21,"w":294000},{"b":19,"h":22,"w":287000},{"b":19,"h":23,"w":253000},{"b":19,"h":24,"w":213000},
{"b":20,"h":1,"w":132000},{"b":20,"h":2,"w":121000},{"b":20,"h":3,"w":118000},{"b":20,"h":4,"w":113000},{"b":20,"h":5,"w":113000},{"b":20,"h":6,"w":110000},{"b":20,"h":7,"w":123000},{"b":20,"h":8,"w":190000},{"b":20,"h":9,"w":268000},{"b":20,"h":10,"w":319000},{"b":20,"h":11,"w":343000},{"b":20,"h":12,"w":375000},{"b":20,"h":13,"w":357000},{"b":20,"h":14,"w":335000},{"b":20,"h":15,"w":332000},{"b":20,"h":16,"w":337000},{"b":20,"h":17,"w":349000},{"b":20,"h":18,"w":344000},{"b":20,"h":19,"w":320000},{"b":20,"h":20,"w":311000},{"b":20,"h":21,"w":298000},{"b":20,"h":22,"w":291000},{"b":20,"h":23,"w":257000},{"b":20,"h":24,"w":217000}
],
"C": [
{"b":1,"h":1,"w":12000},{"b":1,"h":2,"w":9000},{"b":1,"h":3,"w":8000},{"b":1,"h":4,"w":8000},{"b":1,"h":5,"w":8000},{"b":1,"h":6,"w":8000},{"b":1,"h":7,"w":8000},{"b":1,"h":8,"w":12000},{"b":1,"h":9,"w":13000},{"b":1,"h":10,"w":14000},{"b":1,"h":11,"w":15000},{"b":1,"h":12,"w":16000},{"b":1,"h":13,"w":15000},{"b":1,"h":14,"w":17000},{"b":1,"h":15,"w":14000},{"b":1,"h":16,"w":16000},{"b":1,"h":17,"w":17000},{"b":1,"h":18,"w":15000},{"b":1,"h":19,"w":19000},{"b":1,"h":20,"w":23000},{"b":1,"h":21,"w":20000},{"b":1,"h":22,"w":19000},{"b":1,"h":23,"w":19000},{"b":1,"h":24,"w":18000},
{"b":2,"h":1,"w":23000},{"b":2,"h":2,"w":20000},{"b":2,"h":3,"w":19000},{"b":2,"h":4,"w":19000},{"b":2,"h":5,"w":19000},{"b":2,"h":6,"w":19000},{"b":2,"h":7,"w":20000},{"b":2,"h":8,"w":30000},{"b":2,"h":9,"w":32000},{"b":2,"h":10,"w":33000},{"b":2,"h":11,"w":34000},{"b":2,"h":12,"w":37000},{"b":2,"h":13,"w":36000},{"b":2,"h":14,"w":35000},{"b":2,"h":15,"w":35000},{"b":2,"h":16,"w":37000},{"b":2,"h":17,"w":39000},{"b":2,"h":18,"w":38000},{"b":2,"h":19,"w":42000},{"b":2,"h":20,"w":44000},{"b":2,"h":21,"w":42000},{"b":2,"h":22,"w":42000},{"b":2,"h":23,"w":39000},{"b":2,"h":24,"w":35000},
{"b":3,"h":1,"w":29000},{"b":3,"h":2,"w":26000},{"b":3,"h":3,"w":25000},{"b":3,"h":4,"w":24000},{"b":3,"h":5,"w":24000},{"b":3,"h":6,"w":24000},{"b":3,"h":7,"w":26000},{"b":3,"h":8,"w":37000},{"b":3,"h":9,"w":39000},{"b":3,"h":10,"w":41000},{"b":3,"h":11,"w":42000},{"b":3,"h":12,"w":47000},{"b":3,"h":13,"w":54000},{"b":3,"h":14,"w":51000},{"b":3,"h":15,"w":49000},{"b":3,"h":16,"w":51000},{"b":3,"h":17,"w":54000},{"b":3,"h":18,"w":52000},{"b":3,"h":19,"w":60000},{"b":3,"h":20,"w":57000},{"b":3,"h":21,"w":54000},{"b":3,"h":22,"w":50000},{"b":3,"h":23,"w":41000},{"b":3,"h":24,"w":35000},
{"b":4,"h":1,"w":29000},{"b":4,"h":2,"w":26000},{"b":4,"h":3,"w":25000},{"b":4,"h":4,"w":24000},{"b":4,"h":5,"w":24000},{"b":4,"h":6,"w":24000},{"b":4,"h":7,"w":26000},{"b":4,"h":8,"w":37000},{"b":4,"h":9,"w":39000},{"b":4,"h":10,"w":41000},{"b":4,"h":11,"w":42000},{"b":4,"h":12,"w":47000},{"b":4,"h":13,"w":54000},{"b":4,"h":14,"w":51000},{"b":4,"h":15,"w":49000},{"b":4,"h":16,"w":51000},{"b":4,"h":17,"w":54000},{"b":4,"h":18,"w":52000},{"b":4,"h":19,"w":60000},{"b":4,"h":20,"w":57000},{"b":4,"h":21,"w":54000},{"b":4,"h":22,"w":50000},{"b":4,"h":23,"w":41000},{"b":4,"h":24,"w":35000},
{"b":5,"h":1,"w":33000},{"b":5,"h":2,"w":29000},{"b":5,"h":3,"w":29000},{"b":5,"h":4,"w":27000},{"b":5,"h":5,"w":27000},{"b":5,"h":6,"w":27000},{"b":5,"h":7,"w":30000},{"b":5,"h":8,"w":41000},{"b":5,"h":9,"w":44000},{"b":5,"h":10,"w":47000},{"b":5,"h":11,"w":48000},{"b":5,"h":12,"w":54000},{"b":5,"h":13,"w":61000},{"b":5,"h":14,"w":57000},{"b":5,"h":15,"w":57000},{"b":5,"h":16,"w":57000},{"b":5,"h":17,"w":61000},{"b":5,"h":18,"w":59000},{"b":5,"h":19,"w":68000},{"b":5,"h":20,"w":64000},{"b":5,"h":21,"w":61000},{"b":5,"h":22,"w":56000},{"b":5,"h":23,"w":47000},{"b":5,"h":24,"w":41000},
{"b":6,"h":1,"w":39000},{"b":6,"h":2,"w":36000},{"b":6,"h":3,"w":35000},{"b":6,"h":4,"w":34000},{"b":6,"h":5,"w":34000},{"b":6,"h":6,"w":34000},{"b":6,"h":7,"w":37000},{"b":6,"h":8,"w":50000},{"b":6,"h":9,"w":60000},{"b":6,"h":10,"w":68000},{"b":6,"h":11,"w":70000},{"b":6,"h":12,"w":84000},{"b":6,"h":13,"w":84000},{"b":6,"h":14,"w":74000},{"b":6,"h":15,"w":75000},{"b":6,"h":16,"w":81000},{"b":6,"h":17,"w":84000},{"b":6,"h":18,"w":78000},{"b":6,"h":19,"w":90000},{"b":6,"h":20,"w":88000},{"b":6,"h":21,"w":84000},{"b":6,"h":22,"w":78000},{"b":6,"h":23,"w":69000},{"b":6,"h":24,"w":58000},
{"b":7,"h":1,"w":52000},{"b":7,"h":2,"w":47000},{"b":7,"h":3,"w":46000},{"b":7,"h":4,"w":45000},{"b":7,"h":5,"w":45000},{"b":7,"h":6,"w":45000},{"b":7,"h":7,"w":48000},{"b":7,"h":8,"w":67000},{"b":7,"h":9,"w":84000},{"b":7,"h":10,"w":96000},{"b":7,"h":11,"w":101000},{"b":7,"h":12,"w":114000},{"b":7,"h":13,"w":109000},{"b":7,"h":14,"w":98000},{"b":7,"h":15,"w":101000},{"b":7,"h":16,"w":107000},{"b":7,"h":17,"w":108000},{"b":7,"h":18,"w":102000},{"b":7,"h":19,"w":112000},{"b":7,"h":20,"w":107000},{"b":7,"h":21,"w":100000},{"b":7,"h":22,"w":91000},{"b":7,"h":23,"w":81000},{"b":7,"h":24,"w":69000},
{"b":8,"h":1,"w":63000},{"b":8,"h":2,"w":58000},{"b":8,"h":3,"w":57000},{"b":8,"h":4,"w":54000},{"b":8,"h":5,"w":54000},{"b":8,"h":6,"w":53000},{"b":8,"h":7,"w":58000},{"b":8,"h":8,"w":94000},{"b":8,"h":9,"w":116000},{"b":8,"h":10,"w":137000},{"b":8,"h":11,"w":139000},{"b":8,"h":12,"w":160000},{"b":8,"h":13,"w":154000},{"b":8,"h":14,"w":145000},{"b":8,"h":15,"w":142000},{"b":8,"h":16,"w":142000},{"b":8,"h":17,"w":137000},{"b":8,"h":18,"w":137000},{"b":8,"h":19,"w":149000},{"b":8,"h":20,"w":135000},{"b":8,"h":21,"w":128000},{"b":8,"h":22,"w":116000},{"b":8,"h":23,"w":101000},{"b":8,"h":24,"w":84000},
{"b":9,"h":1,"w":70000},{"b":9,"h":2,"w":64000},{"b":9,"h":3,"w":63000},{"b":9,"h":4,"w":60000},{"b":9,"h":5,"w":60000},{"b":9,"h":6,"w":59000},{"b":9,"h":7,"w":64000},{"b":9,"h":8,"w":115000},{"b":9,"h":9,"w":156000},{"b":9,"h":10,"w":181000},{"b":9,"h":11,"w":183000},{"b":9,"h":12,"w":209000},{"b":9,"h":13,"w":185000},{"b":9,"h":14,"w":184000},{"b":9,"h":15,"w":171000},{"b":9,"h":16,"w":183000},{"b":9,"h":17,"w":181000},{"b":9,"h":18,"w":167000},{"b":9,"h":19,"w":170000},{"b":9,"h":20,"w":156000},{"b":9,"h":21,"w":147000},{"b":9,"h":22,"w":133000},{"b":9,"h":23,"w":109000},{"b":9,"h":24,"w":90000},
{"b":10,"h":1,"w":70000},{"b":10,"h":2,"w":64000},{"b":10,"h":3,"w":63000},{"b":10,"h":4,"w":60000},{"b":10,"h":5,"w":60000},{"b":10,"h":6,"w":59000},{"b":10,"h":7,"w":64000},{"b":10,"h":8,"w":115000},{"b":10,"h":9,"w":156000},{"b":10,"h":10,"w":181000},{"b":10,"h":11,"w":183000},{"b":10,"h":12,"w":209000},{"b":10,"h":13,"w":185000},{"b":10,"h":14,"w":184000},{"b":10,"h":15,"w":171000},{"b":10,"h":16,"w":183000},{"b":10,"h":17,"w":181000},{"b":10,"h":18,"w":173000},{"b":10,"h":19,"w":175000},{"b":10,"h":20,"w":164000},{"b":10,"h":21,"w":153000},{"b":10,"h":22,"w":153000},{"b":10,"h":23,"w":126000},{"b":10,"h":24,"w":121000},
{"b":11,"h":1,"w":70000},{"b":11,"h":2,"w":64000},{"b":11,"h":3,"w":63000},{"b":11,"h":4,"w":60000},{"b":11,"h":5,"w":60000},{"b":11,"h":6,"w":59000},{"b":11,"h":7,"w":64000},{"b":11,"h":8,"w":115000},{"b":11,"h":9,"w":156000},{"b":11,"h":10,"w":181000},{"b":11,"h":11,"w":183000},{"b":11,"h":12,"w":209000},{"b":11,"h":13,"w":185000},{"b":11,"h":14,"w":184000},{"b":11,"h":15,"w":171000},{"b":11,"h":16,"w":183000},{"b":11,"h":17,"w":181000},{"b":11,"h":18,"w":173000},{"b":11,"h":19,"w":175000},{"b":11,"h":20,"w":164000},{"b":11,"h":21,"w":153000},{"b":11,"h":22,"w":153000},{"b":11,"h":23,"w":126000},{"b":11,"h":24,"w":121000},
{"b":12,"h":1,"w":70000},{"b":12,"h":2,"w":64000},{"b":12,"h":3,"w":63000},{"b":12,"h":4,"w":60000},{"b":12,"h":5,"w":60000},{"b":12,"h":6,"w":59000},{"b":12,"h":7,"w":64000},{"b":12,"h":8,"w":115000},{"b":12,"h":9,"w":156000},{"b":12,"h":10,"w":181000},{"b":12,"h":11,"w":183000},{"b":12,"h":12,"w":209000},{"b":12,"h":13,"w":185000},{"b":12,"h":14,"w":184000},{"b":12,"h":15,"w":171000},{"b":12,"h":16,"w":183000},{"b":12,"h":17,"w":181000},{"b":12,"h":18,"w":173000},{"b":12,"h":19,"w":175000},{"b":12,"h":20,"w":164000},{"b":12,"h":21,"w":153000},{"b":12,"h":22,"w":153000},{"b":12,"h":23,"w":126000},{"b":12,"h":24,"w":121000},
{"b":13,"h":1,"w":88000},{"b":13,"h":2,"w":81000},{"b":13,"h":3,"w":80000},{"b":13,"h":4,"w":77000},{"b":13,"h":5,"w":76000},{"b":13,"h":6,"w":74000},{"b":13,"h":7,"w":81000},{"b":13,"h":8,"w":133000},{"b":13,"h":9,"w":177000},{"b":13,"h":10,"w":211000},{"b":13,"h":11,"w":215000},{"b":13,"h":12,"w":240000},{"b":13,"h":13,"w":217000},{"b":13,"h":14,"w":209000},{"b":13,"h":15,"w":195000},{"b":13,"h":16,"w":213000},{"b":13,"h":17,"w":215000},{"b":13,"h":18,"w":206000},{"b":13,"h":19,"w":212000},{"b":13,"h":20,"w":200000},{"b":13,"h":21,"w":190000},{"b":13,"h":22,"w":188000},{"b":13,"h":23,"w":160000},{"b":13,"h":24,"w":149000},
{"b":14,"h":1,"w":99000},{"b":14,"h":2,"w":93000},{"b":14,"h":3,"w":90000},{"b":14,"h":4,"w":84000},{"b":14,"h":5,"w":83000},{"b":14,"h":6,"w":81000},{"b":14,"h":7,"w":90000},{"b":14,"h":8,"w":138000},{"b":14,"h":9,"w":182000},{"b":14,"h":10,"w":217000},{"b":14,"h":11,"w":222000},{"b":14,"h":12,"w":249000},{"b":14,"h":13,"w":226000},{"b":14,"h":14,"w":216000},{"b":14,"h":15,"w":204000},{"b":14,"h":16,"w":220000},{"b":14,"h":17,"w":223000},{"b":14,"h":18,"w":212000},{"b":14,"h":19,"w":218000},{"b":14,"h":20,"w":207000},{"b":14,"h":21,"w":196000},{"b":14,"h":22,"w":194000},{"b":14,"h":23,"w":167000},{"b":14,"h":24,"w":156000},
{"b":15,"h":1,"w":99000},{"b":15,"h":2,"w":93000},{"b":15,"h":3,"w":90000},{"b":15,"h":4,"w":84000},{"b":15,"h":5,"w":83000},{"b":15,"h":6,"w":81000},{"b":15,"h":7,"w":90000},{"b":15,"h":8,"w":138000},{"b":15,"h":9,"w":182000},{"b":15,"h":10,"w":217000},{"b":15,"h":11,"w":222000},{"b":15,"h":12,"w":249000},{"b":15,"h":13,"w":226000},{"b":15,"h":14,"w":216000},{"b":15,"h":15,"w":204000},{"b":15,"h":16,"w":220000},{"b":15,"h":17,"w":223000},{"b":15,"h":18,"w":212000},{"b":15,"h":19,"w":218000},{"b":15,"h":20,"w":207000},{"b":15,"h":21,"w":196000},{"b":15,"h":22,"w":194000},{"b":15,"h":23,"w":167000},{"b":15,"h":24,"w":156000},
{"b":16,"h":1,"w":111000},{"b":16,"h":2,"w":102000},{"b":16,"h":3,"w":95000},{"b":16,"h":4,"w":88000},{"b":16,"h":5,"w":88000},{"b":16,"h":6,"w":85000},{"b":16,"h":7,"w":95000},{"b":16,"h":8,"w":143000},{"b":16,"h":9,"w":188000},{"b":16,"h":10,"w":223000},{"b":16,"h":11,"w":228000},{"b":16,"h":12,"w":255000},{"b":16,"h":13,"w":232000},{"b":16,"h":14,"w":222000},{"b":16,"h":15,"w":209000},{"b":16,"h":16,"w":225000},{"b":16,"h":17,"w":228000},{"b":16,"h":18,"w":217000},{"b":16,"h":19,"w":223000},{"b":16,"h":20,"w":213000},{"b":16,"h":21,"w":202000},{"b":16,"h":22,"w":200000},{"b":16,"h":23,"w":173000},{"b":16,"h":24,"w":162000},
{"b":17,"h":1,"w":122000},{"b":17,"h":2,"w":112000},{"b":17,"h":3,"w":105000},{"b":17,"h":4,"w":99000},{"b":17,"h":5,"w":98000},{"b":17,"h":6,"w":95000},{"b":17,"h":7,"w":104000},{"b":17,"h":8,"w":160000},{"b":17,"h":9,"w":213000},{"b":17,"h":10,"w":249000},{"b":17,"h":11,"w":260000},{"b":17,"h":12,"w":285000},{"b":17,"h":13,"w":259000},{"b":17,"h":14,"w":249000},{"b":17,"h":15,"w":240000},{"b":17,"h":16,"w":254000},{"b":17,"h":17,"w":259000},{"b":17,"h":18,"w":249000},{"b":17,"h":19,"w":242000},{"b":17,"h":20,"w":230000},{"b":17,"h":21,"w":219000},{"b":17,"h":22,"w":215000},{"b":17,"h":23,"w":185000},{"b":17,"h":24,"w":175000},
{"b":18,"h":1,"w":122000},{"b":18,"h":2,"w":112000},{"b":18,"h":3,"w":105000},{"b":18,"h":4,"w":99000},{"b":18,"h":5,"w":98000},{"b":18,"h":6,"w":95000},{"b":18,"h":7,"w":104000},{"b":18,"h":8,"w":160000},{"b":18,"h":9,"w":213000},{"b":18,"h":10,"w":249000},{"b":18,"h":11,"w":260000},{"b":18,"h":12,"w":285000},{"b":18,"h":13,"w":259000},{"b":18,"h":14,"w":249000},{"b":18,"h":15,"w":240000},{"b":18,"h":16,"w":254000},{"b":18,"h":17,"w":259000},{"b":18,"h":18,"w":249000},{"b":18,"h":19,"w":242000},{"b":18,"h":20,"w":230000},{"b":18,"h":21,"w":219000},{"b":18,"h":22,"w":215000},{"b":18,"h":23,"w":185000},{"b":18,"h":24,"w":175000},
{"b":19,"h":1,"w":126000},{"b":19,"h":2,"w":116000},{"b":19,"h":3,"w":109000},{"b":19,"h":4,"w":103000},{"b":19,"h":5,"w":102000},{"b":19,"h":6,"w":99000},{"b":19,"h":7,"w":109000},{"b":19,"h":8,"w":167000},{"b":19,"h":9,"w":219000},{"b":19,"h":10,"w":260000},{"b":19,"h":11,"w":272000},{"b":19,"h":12,"w":298000},{"b":19,"h":13,"w":269000},{"b":19,"h":14,"w":261000},{"b":19,"h":15,"w":253000},{"b":19,"h":16,"w":268000},{"b":19,"h":17,"w":272000},{"b":19,"h":18,"w":264000},{"b":19,"h":19,"w":256000},{"b":19,"h":20,"w":242000},{"b":19,"h":21,"w":230000},{"b":19,"h":22,"w":226000},{"b":19,"h":23,"w":194000},{"b":19,"h":24,"w":185000},
{"b":20,"h":1,"w":126000},{"b":20,"h":2,"w":116000},{"b":20,"h":3,"w":109000},{"b":20,"h":4,"w":103000},{"b":20,"h":5,"w":102000},{"b":20,"h":6,"w":99000},{"b":20,"h":7,"w":109000},{"b":20,"h":8,"w":167000},{"b":20,"h":9,"w":219000},{"b":20,"h":10,"w":260000},{"b":20,"h":11,"w":272000},{"b":20,"h":12,"w":298000},{"b":20,"h":13,"w":269000},{"b":20,"h":14,"w":261000},{"b":20,"h":15,"w":253000},{"b":20,"h":16,"w":268000},{"b":20,"h":17,"w":272000},{"b":20,"h":18,"w":264000},{"b":20,"h":19,"w":256000},{"b":20,"h":20,"w":242000},{"b":20,"h":21,"w":230000},{"b":20,"h":22,"w":226000},{"b":20,"h":23,"w":194000},{"b":20,"h":24,"w":185000}
]
},
"resolve": {"scale": {"color": "shared", "x": "independent", "y": "independent"}},
"spacing": 9,
"vconcat": [
{
 "hconcat": [
  {
   "width": 522, "height": 237,
   "data": {"name": "A"},
   "title": {"text": "(A)", "anchor": "start", "frame": "group", "offset": -36, "dx": 7, "fontSize": 19, "fontWeight": "bold", "color": "black", "font": "Lato"},
   "mark": {"type": "line", "strokeWidth": 2.5},
   "encoding": {
    "x": {"field": "h", "type": "quantitative", "scale": {"domain": [0.1, 24.7], "nice": false, "zero": false}, "axis": {"values": [1,2,3,4,5,6,7,8,9,10,11,12,13,14,15,16,17,18,19,20,21,22,23,24], "format": "d", "grid": false, "title": "Time (H)", "labelPadding": 6, "titlePadding": 10}},
    "y": {"field": "w", "type": "quantitative", "scale": {"domain": [0, 600000], "nice": false}, "axis": {"values": [0,100000,200000,300000,400000,500000,600000], "format": "d", "title": "Power (W)", "labelPadding": 8, "titlePadding": 6}},
    "color": {"field": "b", "type": "nominal", "scale": {"domain": [1,2,3,4,5,6,7,8,9,10,11,12,13,14,15,16,17,18,19,20], "range": ["#4472C4","#ED7D31","#A5A5A5","#FFC000","#5B9BD5","#70AD47","#264478","#9E480E","#636363","#997300","#255E91","#43682B","#698ED0","#F1975A","#B7B7B7","#FFCD33","#7CAFDD","#8CC168","#335AA1","#D26012"]}, "legend": {"orient": "none", "legendX": 178, "legendY": -52, "direction": "horizontal", "columns": 10, "title": null, "symbolType": "stroke", "symbolSize": 529, "symbolStrokeWidth": 3, "labelFont": "Lato", "labelFontSize": 10, "labelColor": "#595959", "labelOffset": 3, "columnPadding": 0, "rowPadding": 1, "gridAlign": "all", "padding": 0, "labelExpr": "'BUS ' + datum.label"}}
   }
  },
  {
   "width": 500, "height": 237,
   "data": {"name": "B"},
   "title": {"text": "(B)", "anchor": "start", "frame": "group", "offset": -36, "dx": 8, "fontSize": 19, "fontWeight": "bold", "color": "black", "font": "Lato"},
   "mark": {"type": "line", "strokeWidth": 2.5},
   "encoding": {
    "x": {"field": "h", "type": "quantitative", "scale": {"domain": [0.45, 24.26], "nice": false, "zero": false}, "axis": {"values": [1,2,3,4,5,6,7,8,9,10,11,12,13,14,15,16,17,18,19,20,21,22,23,24], "format": "d", "grid": false, "title": "Time (H)", "labelPadding": 6, "titlePadding": 10}},
    "y": {"field": "w", "type": "quantitative", "scale": {"domain": [0, 600000], "nice": false}, "axis": {"values": [0,100000,200000,300000,400000,500000,600000], "format": "d", "title": null, "labelPadding": 8}},
    "color": {"field": "b", "type": "nominal"}
   }
  }
 ],
 "spacing": 2,
 "resolve": {"scale": {"color": "shared", "x": "independent", "y": "independent"}}
},
{
 "hconcat": [
  {"width": 239, "height": 10, "data": {"values": []}, "mark": {"type": "point"}, "encoding": {}},
  {
   "width": 509, "height": 236,
   "data": {"name": "C"},
   "title": {"text": "(C)", "anchor": "start", "frame": "group", "offset": -36, "dx": 7, "fontSize": 19, "fontWeight": "bold", "color": "black", "font": "Lato"},
   "mark": {"type": "line", "strokeWidth": 2.5},
   "encoding": {
    "x": {"field": "h", "type": "quantitative", "scale": {"domain": [0.5, 24.5], "nice": false, "zero": false}, "axis": {"values": [1,2,3,4,5,6,7,8,9,10,11,12,13,14,15,16,17,18,19,20,21,22,23,24], "format": "d", "grid": false, "title": "Time (H)", "labelPadding": 6, "titlePadding": 13}},
    "y": {"field": "w", "type": "quantitative", "scale": {"domain": [0, 600000], "nice": false}, "axis": {"values": [0,100000,200000,300000,400000,500000,600000], "format": "d", "title": "Power (W)", "labelPadding": 8, "titlePadding": 2}},
    "color": {"field": "b", "type": "nominal"}
   }
  }
 ],
 "spacing": 0,
 "resolve": {"scale": {"color": "shared", "x": "independent", "y": "independent"}}
}
]
}
